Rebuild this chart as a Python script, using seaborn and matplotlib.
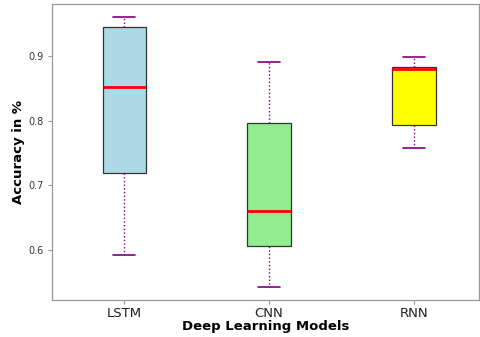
import numpy as np
import pandas as pd
import seaborn as sns
import matplotlib
matplotlib.use("Agg")
import matplotlib.pyplot as plt

models = ["LSTM", "CNN", "RNN"]
# five-number summaries: min, Q1, median, Q3, max
lstm = [0.592, 0.719, 0.852, 0.945, 0.960]
cnn = [0.543, 0.607, 0.660, 0.796, 0.891]
rnn = [0.758, 0.793, 0.880, 0.883, 0.898]
colors = ["lightblue", "lightgreen", "yellow"]

df = pd.DataFrame({
    "model": np.repeat(models, 5),
    "acc": lstm + cnn + rnn,
})

sns.set_style("white")
fig = plt.figure(figsize=(4.8, 3.37), dpi=100)
ax = fig.add_axes([0.108, 0.11, 0.89, 0.878])

sns.boxplot(data=df, x="model", y="acc", hue="model", palette=colors,
            width=0.3, whis=np.inf, legend=False, ax=ax, saturation=1,
            boxprops=dict(edgecolor="#333333", linewidth=0.9),
            medianprops=dict(color="red", linewidth=2),
            whiskerprops=dict(color="purple", linestyle=":", linewidth=1),
            capprops=dict(color="purple", linewidth=1.2),
            showfliers=False)

ax.set_xlim(-0.5, 2.45)
ax.set_ylim(0.523, 0.980)
ax.set_yticks([0.6, 0.7, 0.8, 0.9])
ax.set_yticklabels(["0.6", "0.7", "0.8", "0.9"])
ax.tick_params(axis="y", labelsize=7, colors="#333333", length=3, color="#999999", pad=3)
ax.tick_params(axis="x", labelsize=9.5, colors="#222222", length=3, color="#999999", pad=2)
ax.tick_params(bottom=True, left=True)
for s in ax.spines.values():
    s.set_color("#999999")
    s.set_linewidth(0.9)
ax.set_xlabel("Deep Learning Models", fontsize=9.5, fontweight="bold", labelpad=0, color="black")
ax.set_ylabel("Accuracy in %", fontsize=9.5, fontweight="bold", labelpad=2, color="black")

fig.savefig("out.png", dpi=100)
